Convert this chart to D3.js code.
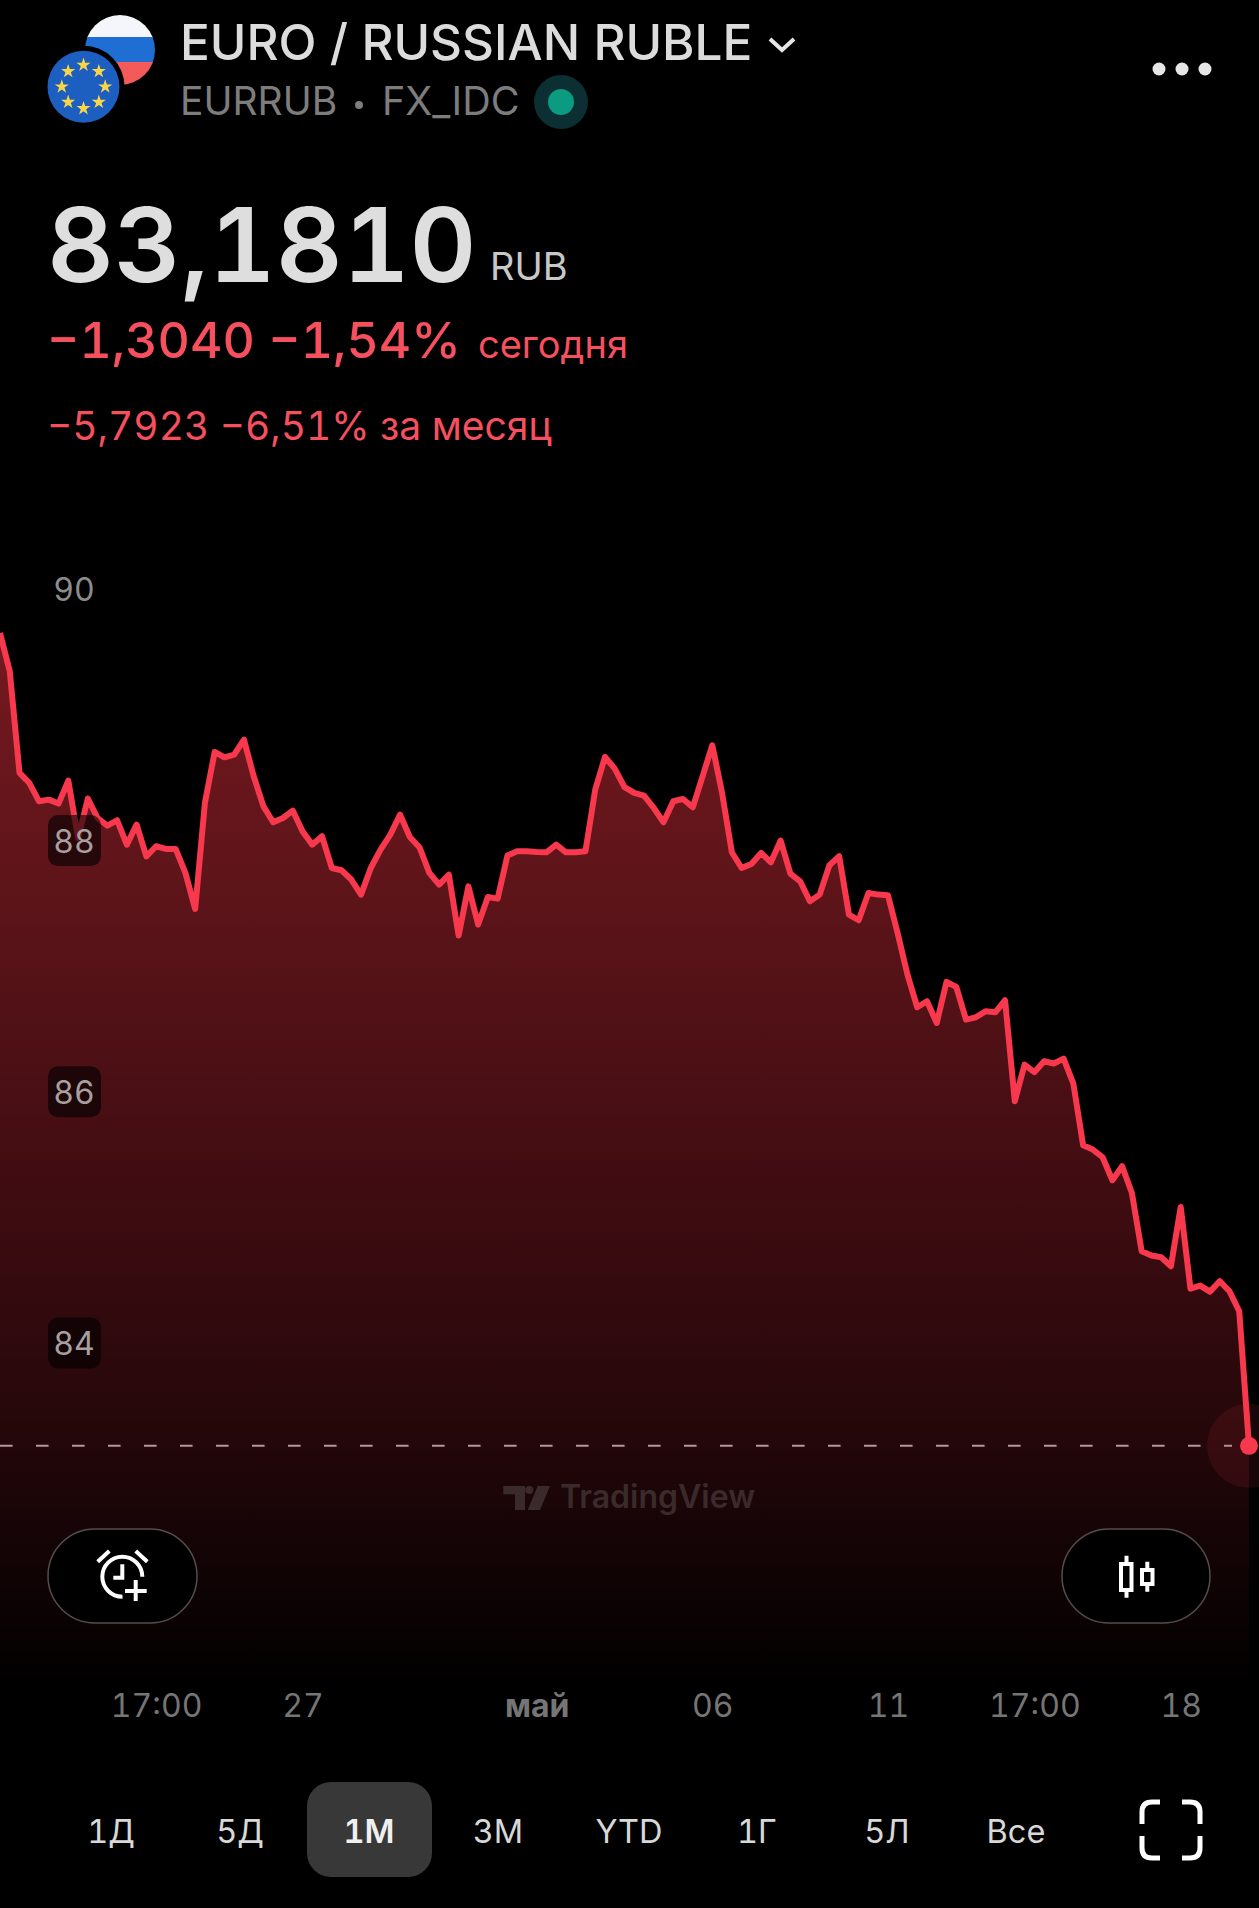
<!DOCTYPE html>
<html><head><meta charset="utf-8">
<script src="https://cdn.jsdelivr.net/npm/d3@7"></script>
<style>html,body{margin:0;padding:0;background:#000;overflow:hidden}svg{display:block}text{font-family:Inter,Roboto,sans-serif;font-feature-settings:"tnum" 1}</style>
</head><body><svg id="c" width="1259" height="1908"></svg>
<script>
const prices=[89.653,89.348,88.539,88.459,88.313,88.326,88.295,88.478,88.02,88.334,88.18,88.119,88.162,87.968,88.127,87.875,87.955,87.934,87.934,87.743,87.456,88.30,88.706,88.663,88.685,88.804,88.512,88.273,88.146,88.18,88.239,88.074,87.968,88.035,87.782,87.764,87.69,87.57,87.782,87.928,88.048,88.207,88.029,87.945,
87.743,87.65,87.729,87.244,87.636,87.331,87.551,87.538,87.881,87.915,87.915,87.91,87.907,87.968,87.907,87.907,87.915,88.406,88.666,88.573,88.425,88.38,88.358,88.26,88.146,88.313,88.332,88.265,88.512,88.759,88.38,87.907,87.782,87.814,87.902,87.827,88.0,87.737,87.676,87.517,87.57,87.804,87.875,
87.411,87.366,87.583,87.57,87.565,87.26,86.933,86.673,86.721,86.548,86.875,86.835,86.575,86.593,86.641,86.633,86.729,85.925,86.217,86.156,86.243,86.225,86.264,86.065,85.574,85.54,85.479,85.296,85.407,85.195,84.73,84.696,84.683,84.611,85.083,84.433,84.457,84.409,84.492,84.412,84.253,83.181];
const yTicks=[90,88,86,84];
const xTickIdx=[16,31,55,73,91,106,121];
const xTickLabels=["17:00","27","май","06","11","17:00","18"];
const ranges=["1Д","5Д","1М","3М","YTD","1Г","5Л","Все"];
const rangeX=[111,240,369,498,629,757,887,1016];
const lastPrice=83.181;

const svg=d3.select("#c");
const x=d3.scaleLinear().domain([0,prices.length-1]).range([0,1249]);
const y=d3.scaleLinear().domain([84,90]).range([1343,589.4]);
const RED="#f7384d", TXT="#f6505f";

const defs=svg.append("defs");
const g=defs.append("linearGradient").attr("id","fade").attr("gradientUnits","userSpaceOnUse").attr("x1",0).attr("x2",0).attr("y1",640).attr("y2",1690);
[[0,"#74191f"],[.25,"#5c1419"],[.5,"#420d12"],[.75,"#25070a"],[1,"#000"]].forEach(s=>g.append("stop").attr("offset",s[0]).attr("stop-color",s[1]));

svg.append("path").datum(prices).attr("fill","url(#fade)")
 .attr("d",d3.area().x((d,i)=>x(i)).y0(1700).y1(d=>y(d)));
svg.append("path").datum(prices).attr("fill","none").attr("stroke",RED).attr("stroke-width",6).attr("stroke-linejoin","round")
 .attr("d",d3.line().x((d,i)=>x(i)).y(d=>y(d)));
const ya=svg.append("g").attr("transform","translate(74,0)").call(d3.axisRight(y).tickValues(yTicks).tickSize(0).tickPadding(0).tickFormat(d3.format("d")));
ya.select(".domain").remove();
ya.selectAll(".tick").each(function(d){
  const t=d3.select(this);
  if(d!==90) t.insert("rect","text").attr("x",-26).attr("y",-26).attr("width",53).attr("height",51).attr("rx",10).attr("fill","rgba(0,0,0,.6)");
  t.select("text").attr("x",0).attr("dy","0.36em").attr("text-anchor","middle").attr("font-size",32).attr("fill",d===90?"#8c8c8c":"#a89f9f").attr("font-family","Inter");
});
svg.append("line").attr("x1",0).attr("x2",1232).attr("y1",y(lastPrice)).attr("y2",y(lastPrice)).attr("stroke","#b09a9a").attr("stroke-width",2).attr("stroke-dasharray","12.6 23.4");
svg.append("circle").attr("cx",x(prices.length-1)).attr("cy",y(lastPrice)).attr("r",42).attr("fill",RED).attr("opacity",.1);
svg.append("circle").attr("cx",x(prices.length-1)).attr("cy",y(lastPrice)).attr("r",9).attr("fill",RED);

const xa=svg.append("g").attr("transform","translate(0,1705)").call(d3.axisBottom(x).tickValues(xTickIdx).tickSize(0).tickPadding(0).tickFormat((d,i)=>xTickLabels[i]));
xa.select(".domain").remove();
xa.selectAll("text").attr("y",0).attr("dy","0.36em").attr("font-size",32).attr("font-family","Inter").attr("fill","#757575")
 .attr("font-weight",(d,i)=>xTickLabels[i]==="май"?700:400);

function T(s,px,py,fs,w,c,a){return svg.append("text").text(s).attr("x",px).attr("y",py).attr("font-size",fs).attr("font-weight",w).attr("fill",c).attr("text-anchor",a||"start");}

// flags
svg.append("clipPath").attr("id","ru").append("circle").attr("cx",120).attr("cy",50).attr("r",35);
const ru=svg.append("g").attr("clip-path","url(#ru)");
ru.append("rect").attr("x",80).attr("y",10).attr("width",80).attr("height",28).attr("fill","#f4f6fb");
ru.append("rect").attr("x",80).attr("y",37).attr("width",80).attr("height",26).attr("fill","#1f6ed4");
ru.append("rect").attr("x",80).attr("y",62).attr("width",80).attr("height",30).attr("fill","#f45a5a");
svg.append("circle").attr("cx",83.5).attr("cy",86.7).attr("r",41).attr("fill","#000");
svg.append("circle").attr("cx",83.5).attr("cy",86.7).attr("r",36).attr("fill","#1c5fc0");
d3.range(8).forEach(i=>{const a=i*Math.PI/4;
 svg.append("path").attr("d",d3.symbol(d3.symbolStar,62)()).attr("fill","#f9d648").attr("transform",`translate(${83.5+21.7*Math.sin(a)},${86.7-21.7*Math.cos(a)})`);});

// header
T("EURO / RUSSIAN RUBLE",180,60,49.5,500,"#dcdcdc");
svg.append("path").attr("d","M770 39L782 50L794 39").attr("fill","none").attr("stroke","#e6e6e6").attr("stroke-width",4);
T("EURRUB",180,115,39,400,"#7d7d7d");
svg.append("circle").attr("cx",359).attr("cy",105).attr("r",4).attr("fill","#7d7d7d");
T("FX_IDC",382,115,39.5,400,"#7d7d7d");
svg.append("circle").attr("cx",561).attr("cy",102).attr("r",27).attr("fill","#0b2f33");
svg.append("circle").attr("cx",561).attr("cy",102).attr("r",13).attr("fill","#0a9b80");
[1159,1182,1205].forEach(px=>svg.append("circle").attr("cx",px).attr("cy",69).attr("r",6.5).attr("fill","#e6e6e6"));

// price block
T("83,1810",47,282,103.5,600,"#dedede");
T("RUB",490,280,38,400,"#c8c8c8");
T("−1,3040 −1,54%",47,358,50,500,TXT);
T("сегодня",478,358,38,400,TXT);
T("−5,7923 −6,51% за месяц",47,440,39,400,TXT);

// TradingView mark
const wm="#3b2a2c";
svg.append("path").attr("d","M503.3 1486H525V1510H515V1494.3H503.3ZM537.7 1486H550L540 1510H527.7Z").attr("fill",wm);
svg.append("circle").attr("cx",529.3).attr("cy",1490).attr("r",4).attr("fill",wm);
T("TradingView",560,1508,32,600,wm).style("font-feature-settings","normal");

// buttons
[[48,149],[1062,148]].forEach(b=>svg.append("rect").attr("x",b[0]).attr("y",1529).attr("width",b[1]).attr("height",94).attr("rx",47).attr("fill","#000").attr("stroke","#564c4c").attr("stroke-width",1.5));
const ic=svg.append("g").attr("fill","none").attr("stroke","#fff").attr("stroke-width",4);
ic.append("path").attr("d","M142.3 1576.7A20 20 0 1 0 122.5 1596.7");
ic.append("path").attr("d","M122.3 1564.3V1577.7H113.3M97.7 1561.7L109.3 1551M147.3 1561.7L135.7 1551M125 1591H146.7M135.7 1580V1601");
ic.append("path").attr("d","M1126.5 1555.7V1564M1126.5 1590V1597.7M1147.3 1561.7V1570M1147.3 1584V1591.7");
ic.append("rect").attr("x",1121).attr("y",1564).attr("width",10.5).attr("height",26);
ic.append("rect").attr("x",1142).attr("y",1570).attr("width",10.5).attr("height",14);

// range bar
svg.append("rect").attr("x",307).attr("y",1782).attr("width",125).attr("height",95).attr("rx",24).attr("fill","#383838");
ranges.forEach((r,i)=>T(r,rangeX[i],1843,32.5,r==="1М"?600:400,r==="1М"?"#f0f0f0":"#d8d8d8","middle"));
svg.append("path").attr("d","M1142 1824V1812Q1142 1802 1152 1802H1160M1182 1802H1190Q1200 1802 1200 1812V1824M1142 1836V1848Q1142 1858 1152 1858H1160M1182 1858H1190Q1200 1858 1200 1848V1836").attr("fill","none").attr("stroke","#fff").attr("stroke-width",5);
</script></body></html>
